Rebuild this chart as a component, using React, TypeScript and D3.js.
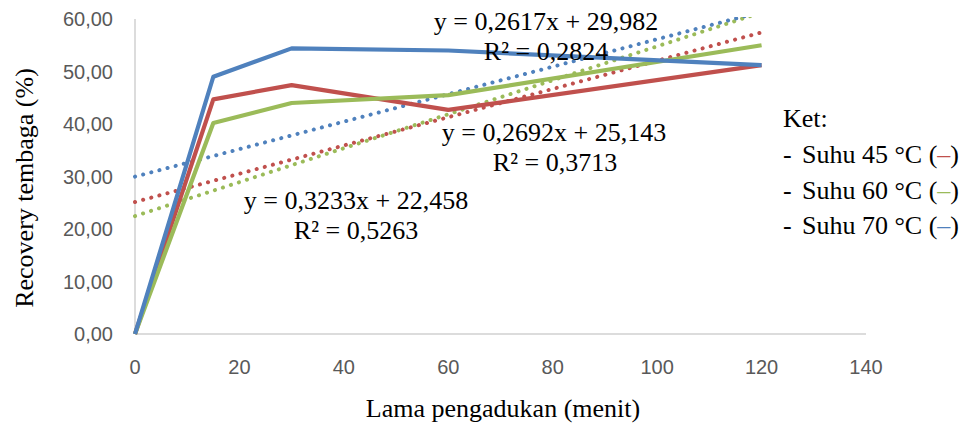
import React from "react";
import * as d3 from "d3";

const times = [0, 15, 30, 60, 120];
const suhu45 = [0, 44.7, 47.4, 42.7, 51.2];
const suhu60 = [0, 40.2, 44.0, 45.5, 55.0];
const suhu70 = [0, 49.0, 54.4, 54.0, 51.2];
const xTicks = [0, 20, 40, 60, 80, 100, 120, 140];
const yTicks = [0, 10, 20, 30, 40, 50, 60];
const legendLabels = ["Suhu 45 °C (", "Suhu 60 °C (", "Suhu 70 °C ("];
const trendSlopes = [0.2692, 0.3233, 0.2617];
const trendIntercepts = [25.143, 22.458, 29.982];
const trendEq = ["y = 0,2692x + 25,143", "y = 0,3233x + 22,458", "y = 0,2617x + 29,982"];
const trendR2 = ["R² = 0,3713", "R² = 0,5263", "R² = 0,2824"];

const colors = ["#C0504D", "#9BBB59", "#4F81BD"];
const series = [suhu45, suhu60, suhu70];
// label positions (eq center x, eq baseline y, r2 center x, r2 baseline y)
const labelPos = [
  [554, 141, 555, 171],
  [356, 209, 356, 239],
  [546, 30, 546, 60],
];

export default function App() {
  const W = 966, H = 428;
  const x = d3.scaleLinear().domain([0, 140]).range([135, 866]);
  const y = d3.scaleLinear().domain([0, 60]).range([334, 19]);
  const line = d3.line<number>().x((_, i) => x(times[i])).y((d) => y(d));
  const serif = "'Liberation Serif', 'Times New Roman', serif";
  const sans = "'Liberation Sans', Arial, sans-serif";
  return (
    <svg width={W} height={H} style={{ position: "absolute", left: 0, top: 0, background: "#fff" }}>
      <defs>
        <clipPath id="plotclip">
          <rect x={130} y={17} width={740} height={330} />
        </clipPath>
      </defs>
      {/* axes */}
      <line x1={135} y1={19} x2={135} y2={334} stroke="#d0d0d0" strokeWidth={1.5} />
      <line x1={135} y1={334} x2={866} y2={334} stroke="#d0d0d0" strokeWidth={1.5} />
      {yTicks.map((t) => (
        <text key={t} x={113} y={y(t)} dy="0.35em" textAnchor="end" fontFamily={sans} fontSize={20} fill="#595959">
          {t.toFixed(2).replace(".", ",")}
        </text>
      ))}
      {xTicks.map((t) => (
        <text key={t} x={x(t)} y={374} textAnchor="middle" fontFamily={sans} fontSize={20} fill="#595959">
          {t}
        </text>
      ))}
      {/* trend lines */}
      <g clipPath="url(#plotclip)">
        {trendSlopes.map((m, i) => (
          <line
            key={i}
            x1={x(0)}
            y1={y(trendIntercepts[i])}
            x2={x(120)}
            y2={y(m * 120 + trendIntercepts[i])}
            stroke={colors[i]}
            strokeWidth={4}
            strokeLinecap="round"
            strokeDasharray="0.1 8.3"
          />
        ))}
      </g>
      {/* series lines */}
      {series.map((s, i) => (
        <path key={i} d={line(s) || ""} fill="none" stroke={colors[i]} strokeWidth={4.2} strokeLinejoin="round" />
      ))}
      {/* trend labels */}
      {labelPos.map((p, i) => (
        <g key={i} fontFamily={serif} fontSize={26} fill="#000" textAnchor="middle">
          <text x={p[0]} y={p[1]}>{trendEq[i]}</text>
          <text x={p[2]} y={p[3]}>{trendR2[i]}</text>
        </g>
      ))}
      {/* axis titles */}
      <text
        transform="translate(33,188) rotate(-90)"
        textAnchor="middle"
        fontFamily={serif}
        fontSize={26}
        fill="#000"
      >
        Recovery tembaga (%)
      </text>
      <text x={503} y={417} textAnchor="middle" fontFamily={serif} fontSize={26} fill="#000">
        Lama pengadukan (menit)
      </text>
      {/* legend */}
      <g fontFamily={serif} fontSize={26} fill="#000">
        <text x={783} y={127}>Ket:</text>
        {legendLabels.map((l, i) => (
          <text key={i} x={783} y={163 + i * 35.5}>
            <tspan>-</tspan>
            <tspan x={802}>{l}</tspan>
            <tspan fill={colors[i]}>–</tspan>
            <tspan>)</tspan>
          </text>
        ))}
      </g>
    </svg>
  );
}
